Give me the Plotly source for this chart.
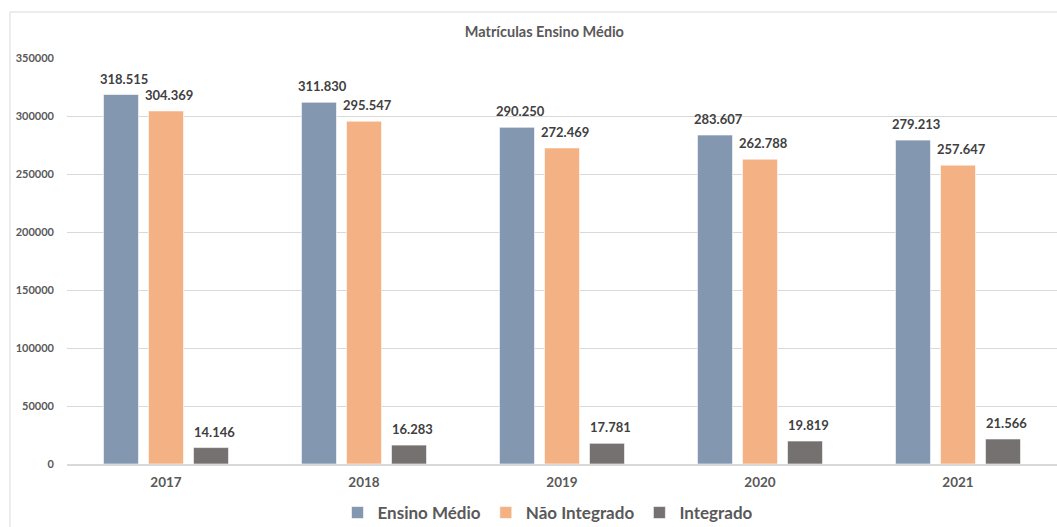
import plotly.graph_objects as go

years = ["2017", "2018", "2019", "2020", "2021"]
ensino_medio = [318515, 311830, 290250, 283607, 279213]
nao_integrado = [304369, 295547, 272469, 262788, 257647]
integrado = [14146, 16283, 17781, 19819, 21566]
y_ticks = [0, 50000, 100000, 150000, 200000, 250000, 300000, 350000]

series = [
    ("Ensino Médio", ensino_medio, "#8497B0"),
    ("Não Integrado", nao_integrado, "#F4B183"),
    ("Integrado", integrado, "#767171"),
]

FONT = "Lato"
SLOT_PX = 45  # horizontal distance between bars of a group
fig = go.Figure()
annotations = []
for i, (name, vals, color) in enumerate(series):
    fig.add_trace(go.Bar(
        name=name, x=years, y=vals,
        marker=dict(color=color, line=dict(color="rgba(255,255,255,0.6)", width=1)),
    ))
    for j, v in enumerate(vals):
        annotations.append(dict(
            x=j, y=v, xref="x", yref="y", text="<b>" + f"{v:,}".replace(",", ".") + "</b>",
            showarrow=False, xanchor="center", yanchor="bottom",
            xshift=(i - 1) * SLOT_PX + 3, yshift=6,
            font=dict(family=FONT, size=13, color="#404040"),
        ))

fig.update_layout(
    width=1057, height=527,
    margin=dict(l=67, r=0, t=58, b=63, autoexpand=False),
    paper_bgcolor="white", plot_bgcolor="white",
    barmode="group", bargap=0.318, bargroupgap=0.222,
    title=dict(text="<b>Matrículas Ensino Médio</b>", x=0.515, xanchor="center",
               y=1 - 32 / 527, yanchor="middle", yref="container",
               font=dict(family=FONT, size=14.5, color="#595959")),
    font=dict(family=FONT, color="#595959"),
    legend=dict(orientation="h", x=(548 - 67) / 990, xanchor="center",
                y=(464 - 513) / 406, yanchor="middle",
                font=dict(family=FONT, size=17, color="#595959", weight="bold"),
                itemwidth=30, traceorder="normal"),
    showlegend=True,
    annotations=annotations,
    shapes=[dict(type="rect", xref="paper", yref="paper",
                 x0=(10 - 67) / 990, x1=1.05, y0=-0.3, y1=1 + (58 - 12) / 406,
                 line=dict(color="#D9D9D9", width=1), layer="below")],
)
fig.update_xaxes(type="category", range=[-0.5, 4.5], showgrid=False, showline=True,
                 linecolor="#D9D9D9", linewidth=2, ticks="", ticklabelstandoff=5,
                 tickfont=dict(family=FONT, size=13.5, color="#595959", weight="bold"))
fig.update_yaxes(range=[0, 350000], tickvals=y_ticks, tickformat="d",
                 showgrid=True, gridcolor="#D9D9D9", gridwidth=1,
                 zeroline=False, showline=False, ticklabelstandoff=12,
                 tickfont=dict(family=FONT, size=11, color="#595959", weight="bold"))

fig.write_html("out.html", config={"displayModeBar": False},
               post_script="document.body.style.margin='0';document.body.style.padding='0';")
